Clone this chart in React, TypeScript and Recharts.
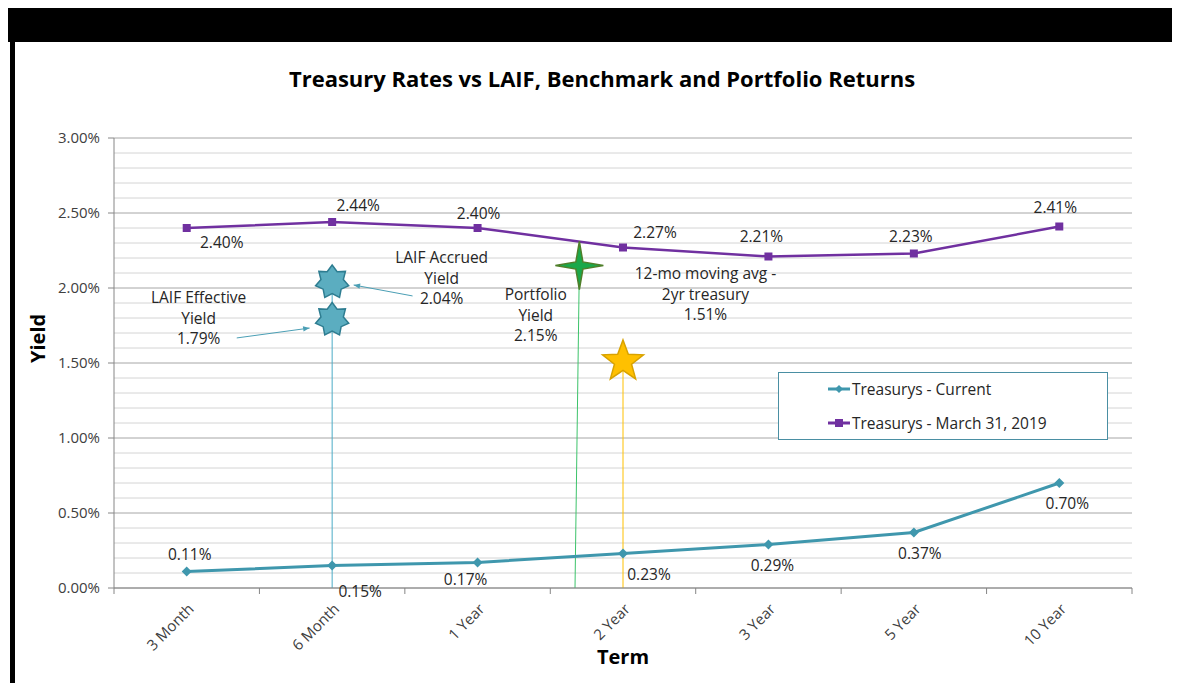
import React from 'react'
import {
  CartesianGrid,
  LabelList,
  Legend,
  Line,
  LineChart,
  ReferenceDot,
  ReferenceLine,
  XAxis,
  YAxis
} from 'recharts'

const terms = ['3 Month', '6 Month', '1 Year', '2 Year', '3 Year', '5 Year', '10 Year']
const current = [0.11, 0.15, 0.17, 0.23, 0.29, 0.37, 0.7]
const march2019 = [2.4, 2.44, 2.4, 2.27, 2.21, 2.23, 2.41]

const yTicks = [0, 0.5, 1, 1.5, 2, 2.5, 3]
const minorTicks = [
  0.1, 0.2, 0.3, 0.4, 0.6, 0.7, 0.8, 0.9, 1.1, 1.2, 1.3, 1.4, 1.6, 1.7, 1.8,
  1.9, 2.1, 2.2, 2.3, 2.4, 2.6, 2.7, 2.8, 2.9
]
const termTicks = [0, 1, 2, 3, 4, 5, 6]
const boundaryTicks = [-0.5, 0.5, 1.5, 2.5, 3.5, 4.5, 5.5, 6.5]

// benchmark markers: value + where on the term axis they sit
const laifAccrued = 2.04
const laifEffective = 1.79
const portfolioYield = 2.15
const movingAvg2yr = 1.51
const laifTerm = 1
const portfolioTerm = 2.7
const movingAvgTerm = 3

// label nudges (px) so the data labels sit like the original
const currentLabelShift = [[3, -18], [28, 25], [-12, 16], [26, 20], [4, 20], [6, 20], [8, 20]]
const marchLabelShift = [[35, 14], [26, -17], [1, -15], [32, -16], [-7, -21], [-3, -18], [-4, -20]]

const data = terms.map((term, i) => ({
  x: i,
  term,
  current: current[i],
  march: march2019[i]
}))

const FONT = '"Open Sans", "Noto Sans", sans-serif'
const TEAL = '#3f97ad'
const PURPLE = '#7030a0'
const AXIS = '#868686'
const TEXT = '#262626'

const pct = (v: number) => `${v.toFixed(2)}%`

function starPoints(cx: number, cy: number, n: number, outer: number, inner: number) {
  const pts: string[] = []
  for (let i = 0; i < n * 2; i++) {
    const r = i % 2 === 0 ? outer : inner
    const a = -Math.PI / 2 + (i * Math.PI) / n
    pts.push(`${cx + r * Math.cos(a)},${cy + r * Math.sin(a)}`)
  }
  return pts.join(' ')
}

const star = (n: number, outer: number, inner: number, fill: string, stroke: string) =>
  (props: any) => (
    <polygon
      points={starPoints(props.cx, props.cy, n, outer, inner)}
      fill={fill}
      stroke={stroke}
      strokeWidth={1.5}
    />
  )

const note = (lines: string[]) => (props: any) => (
  <text
    x={props.cx}
    y={props.cy}
    textAnchor="middle"
    fontFamily={FONT}
    fontSize={15.5}
    fill={TEXT}
  >
    {lines.map((l, i) => (
      <tspan key={i} x={props.cx} dy={i === 0 ? '0.35em' : 20.5}>
        {l}
      </tspan>
    ))}
  </text>
)

const arrow = (props: any) => {
  const { x1, y1, x2, y2 } = props
  const a = Math.atan2(y2 - y1, x2 - x1)
  const s = 7
  const p1 = `${x2 - s * Math.cos(a - 0.4)},${y2 - s * Math.sin(a - 0.4)}`
  const p2 = `${x2 - s * Math.cos(a + 0.4)},${y2 - s * Math.sin(a + 0.4)}`
  return (
    <g>
      <line x1={x1} y1={y1} x2={x2} y2={y2} stroke="#4b9fb5" strokeWidth={1} />
      <polygon points={`${x2},${y2} ${p1} ${p2}`} fill="#4b9fb5" />
    </g>
  )
}

const diamondDot = (props: any) => {
  const { cx, cy } = props
  return (
    <polygon
      key={`d${props.index}`}
      points={`${cx},${cy - 5} ${cx + 5},${cy} ${cx},${cy + 5} ${cx - 5},${cy}`}
      fill={TEAL}
    />
  )
}

const squareDot = (props: any) => {
  const { cx, cy } = props
  return <rect key={`s${props.index}`} x={cx - 4} y={cy - 4} width={8} height={8} fill={PURPLE} />
}

const shiftedLabel = (shift: number[][]) => (props: any) => {
  const { x, y, value, index } = props
  const [dx, dy] = shift[index] || [0, 0]
  return (
    <text
      x={x + dx}
      y={y + dy}
      textAnchor="middle"
      dominantBaseline="central"
      fontFamily={FONT}
      fontSize={15.5}
      fill={TEXT}
    >
      {pct(value)}
    </text>
  )
}

const TermTick = (props: any) => {
  const { x, y, payload } = props
  return (
    <text
      x={x + 8}
      y={y + 6}
      transform={`rotate(-45, ${x + 8}, ${y + 6})`}
      textAnchor="end"
      fontFamily={FONT}
      fontSize={15}
      fill="#404040"
    >
      {terms[payload.value]}
    </text>
  )
}

const LegendBox = () => (
  <svg width={330} height={68} style={{ display: 'block' }}>
    <rect x={0.5} y={0.5} width={329} height={67} fill="#fff" stroke="#4a8fa3" />
    <line x1={50} y1={17} x2={72} y2={17} stroke={TEAL} strokeWidth={3} />
    <polygon points="61,13 65,17 61,21 57,17" fill={TEAL} />
    <text x={74} y={17} dominantBaseline="central" fontFamily={FONT} fontSize={15.5} fill={TEXT}>
      Treasurys - Current
    </text>
    <line x1={50} y1={51} x2={72} y2={51} stroke={PURPLE} strokeWidth={3} />
    <rect x={57} y={47} width={8} height={8} fill={PURPLE} />
    <text x={74} y={51} dominantBaseline="central" fontFamily={FONT} fontSize={15.5} fill={TEXT}>
      Treasurys - March 31, 2019
    </text>
  </svg>
)

export default function App() {
  return (
    <div style={{ position: 'relative', width: 1172, height: 675, background: '#fff', fontFamily: FONT }}>
      <div style={{ position: 'absolute', left: 0, top: 0, width: 1172, height: 34, background: '#000' }} />
      <div style={{ position: 'absolute', left: 2, top: 34, width: 5, height: 641, background: '#000' }} />
      <div
        style={{
          position: 'absolute',
          left: 0,
          top: 55,
          width: 1188,
          textAlign: 'center',
          fontSize: 22,
          lineHeight: '30px',
          fontWeight: 700,
          color: '#000'
        }}
      >
        Treasury Rates vs LAIF, Benchmark and Portfolio Returns
      </div>
      <div style={{ position: 'absolute', left: 0, top: 0 }}>
        <LineChart
          width={1172}
          height={675}
          data={data}
          margin={{ top: 130, right: 48, left: 20, bottom: 7 }}
        >
          <CartesianGrid
            xAxisId={0}
            yAxisId="y"
            vertical={false}
            stroke="#a6a6a6"
          />
          <XAxis
            xAxisId={0}
            dataKey="x"
            type="number"
            domain={[-0.5, 6.5]}
            ticks={boundaryTicks}
            interval={0}
            tick={() => <g />}
            tickSize={6}
            height={8}
            axisLine={{ stroke: AXIS }}
            tickLine={{ stroke: AXIS }}
          />
          <XAxis
            xAxisId={1}
            dataKey="x"
            type="number"
            domain={[-0.5, 6.5]}
            ticks={termTicks}
            interval={0}
            axisLine={false}
            tickLine={false}
            height={80}
            tick={<TermTick />}
            label={{
              value: 'Term',
              position: 'insideBottom',
              offset: 12,
              fontFamily: FONT,
              fontSize: 20,
              fontWeight: 700,
              fill: '#000'
            }}
          />
          <YAxis
            yAxisId="y"
            domain={[0, 3]}
            ticks={yTicks}
            width={86}
            tickSize={6}
            tickMargin={8}
            tickFormatter={pct}
            axisLine={{ stroke: AXIS }}
            tickLine={{ stroke: AXIS }}
            tick={{ fontFamily: FONT, fontSize: 15, fill: '#404040' }}
            label={{
              value: 'Yield',
              angle: -90,
              position: 'insideLeft',
              offset: 10,
              fontFamily: FONT,
              fontSize: 20,
              fontWeight: 700,
              fill: '#000'
            }}
          />

          {/* light 0.1% gridlines between the major ones */}
          {minorTicks.map((v) => (
            <ReferenceLine
              key={`m${v}`}
              xAxisId={0}
              yAxisId="y"
              y={v}
              stroke="#d4d4d4"
              strokeWidth={1}
            />
          ))}

          <ReferenceLine
            xAxisId={0}
            yAxisId="y"
            segment={[{ x: laifTerm, y: laifAccrued }, { x: laifTerm, y: 0 }]}
            stroke="#4bacc6"
            strokeWidth={1}
          />
          <ReferenceLine
            xAxisId={0}
            yAxisId="y"
            segment={[{ x: portfolioTerm, y: portfolioYield }, { x: portfolioTerm - 0.03, y: 0 }]}
            stroke="#3cc36a"
            strokeWidth={1}
          />
          <ReferenceLine
            xAxisId={0}
            yAxisId="y"
            segment={[{ x: movingAvgTerm, y: movingAvg2yr }, { x: movingAvgTerm, y: 0 }]}
            stroke="#ffc000"
            strokeWidth={1}
          />

          <Line
            xAxisId={0}
            yAxisId="y"
            dataKey="current"
            stroke={TEAL}
            strokeWidth={3}
            dot={diamondDot}
            activeDot={false}
            isAnimationActive={false}
          >
            <LabelList dataKey="current" content={shiftedLabel(currentLabelShift)} />
          </Line>
          <Line
            xAxisId={0}
            yAxisId="y"
            dataKey="march"
            stroke={PURPLE}
            strokeWidth={2.5}
            dot={squareDot}
            activeDot={false}
            isAnimationActive={false}
          >
            <LabelList dataKey="march" content={shiftedLabel(marchLabelShift)} />
          </Line>

          <ReferenceLine
            xAxisId={0}
            yAxisId="y"
            segment={[{ x: 1.553, y: 1.947 }, { x: 1.148, y: 2.02 }]}
            shape={arrow}
          />
          <ReferenceLine
            xAxisId={0}
            yAxisId="y"
            segment={[{ x: 0.344, y: 1.667 }, { x: 0.845, y: 1.733 }]}
            shape={arrow}
          />

          <ReferenceDot
            xAxisId={0}
            yAxisId="y"
            x={laifTerm}
            y={laifAccrued}
            shape={star(7, 17, 11.5, '#5badc0', '#2e7d91')}
          />
          <ReferenceDot
            xAxisId={0}
            yAxisId="y"
            x={laifTerm}
            y={laifEffective}
            shape={star(7, 17, 11.5, '#5badc0', '#2e7d91')}
          />
          <ReferenceDot
            xAxisId={0}
            yAxisId="y"
            x={portfolioTerm}
            y={portfolioYield}
            shape={star(4, 24, 5, '#1aa84a', '#4f7f2a')}
          />
          <ReferenceDot
            xAxisId={0}
            yAxisId="y"
            x={movingAvgTerm}
            y={movingAvg2yr}
            shape={star(5, 21.5, 9, '#ffc000', '#d8a200')}
          />

          <ReferenceDot
            xAxisId={0}
            yAxisId="y"
            x={1.753}
            y={2.2}
            shape={note(['LAIF Accrued', 'Yield', pct(laifAccrued)])}
          />
          <ReferenceDot
            xAxisId={0}
            yAxisId="y"
            x={0.082}
            y={1.933}
            shape={note(['LAIF Effective', 'Yield', pct(laifEffective)])}
          />
          <ReferenceDot
            xAxisId={0}
            yAxisId="y"
            x={2.4}
            y={1.953}
            shape={note(['Portfolio', 'Yield', pct(portfolioYield)])}
          />
          <ReferenceDot
            xAxisId={0}
            yAxisId="y"
            x={3.567}
            y={2.093}
            shape={note(['12-mo moving avg -', '2yr treasury', pct(movingAvg2yr)])}
          />

          <Legend
            layout="vertical"
            align="center"
            verticalAlign="middle"
            wrapperStyle={{ position: 'absolute', left: 770, top: 364, width: 330, height: 68 }}
            content={() => <LegendBox />}
          />
        </LineChart>
      </div>
    </div>
  )
}
